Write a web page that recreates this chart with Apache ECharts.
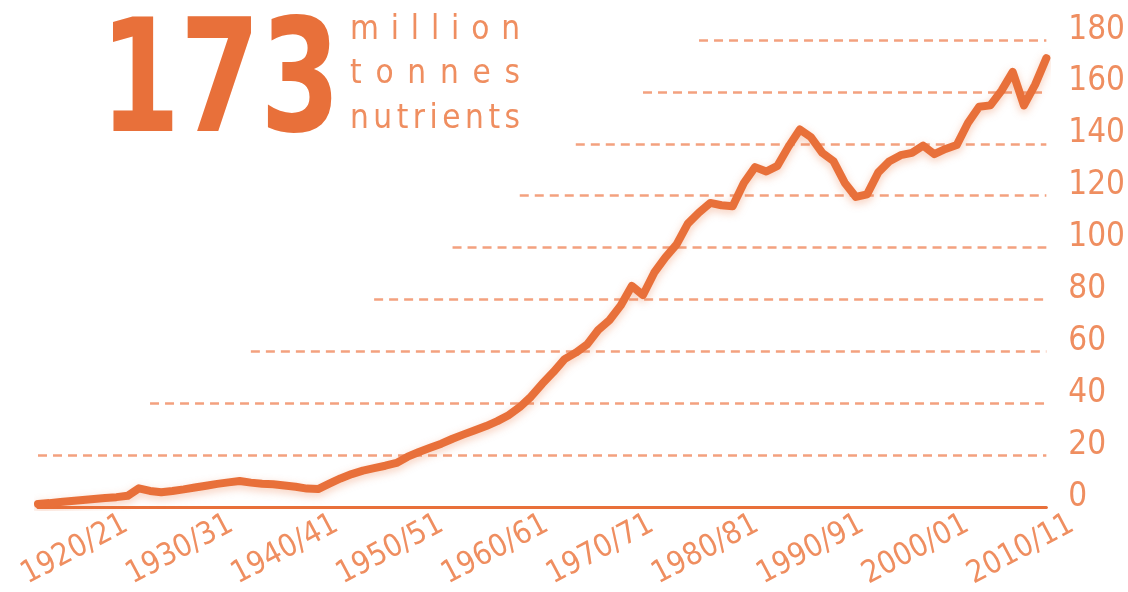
<!DOCTYPE html>
<html>
<head>
<meta charset="utf-8">
<script src="https://cdn.jsdelivr.net/npm/echarts@6/dist/echarts.min.js"></script>
<style>
html,body{margin:0;padding:0;background:#ffffff;}
#wrap{position:relative;width:1128px;height:592px;overflow:hidden;}
#chart{position:absolute;left:0;top:0;width:1128px;height:592px;}
.big{position:absolute;left:100px;top:-1px;font-weight:bold;font-size:156px;line-height:1;font-family:'Liberation Sans Narrow','DejaVu Sans Condensed','Roboto Condensed',sans-serif;color:#E8703A;white-space:nowrap;transform:scaleX(0.82);transform-origin:0 0;}
.unit{position:absolute;left:350px;font-size:33px;line-height:1;font-family:'Liberation Sans Narrow','DejaVu Sans Condensed','Roboto Condensed',sans-serif;color:#EF8E60;white-space:nowrap;}
</style>
</head>
<body>
<div id="wrap">
  <div id="chart"></div>
  <div class="big">173</div>
  <div class="unit" data-w="170" style="top:11px">million</div>
  <div class="unit" data-w="170" style="top:55px">tonnes</div>
  <div class="unit" data-w="170" style="top:100px">nutrients</div>
</div>
<script>
// ---- data ----
const years = [
 '1920/21','1921/22','1922/23','1923/24','1924/25','1925/26','1926/27','1927/28','1928/29','1929/30',
 '1930/31','1931/32','1932/33','1933/34','1934/35','1935/36','1936/37','1937/38','1938/39','1939/40',
 '1940/41','1941/42','1942/43','1943/44','1944/45','1945/46','1946/47','1947/48','1948/49','1949/50',
 '1950/51','1951/52','1952/53','1953/54','1954/55','1955/56','1956/57','1957/58','1958/59','1959/60',
 '1960/61','1961/62','1962/63','1963/64','1964/65','1965/66','1966/67','1967/68','1968/69','1969/70',
 '1970/71','1971/72','1972/73','1973/74','1974/75','1975/76','1976/77','1977/78','1978/79','1979/80',
 '1980/81','1981/82','1982/83','1983/84','1984/85','1985/86','1986/87','1987/88','1988/89','1989/90',
 '1990/91','1991/92','1992/93','1993/94','1994/95','1995/96','1996/97','1997/98','1998/99','1999/00',
 '2000/01','2001/02','2002/03','2003/04','2004/05','2005/06','2006/07','2007/08','2008/09','2009/10',
 '2010/11'
];
const consumption = [
 1.2, 1.5, 1.9, 2.3, 2.7, 3.1, 3.5, 3.8, 4.3, 7.2,
 6.2, 5.7, 6.2, 6.8, 7.5, 8.2, 8.9, 9.5, 10.0, 9.4,
 9.0, 8.8, 8.3, 7.8, 7.1, 6.9, 9.0, 11.0, 12.7, 14.0,
 15.0, 15.9, 17.0, 19.4, 21.2, 22.8, 24.4, 26.3, 28.0, 29.6,
 31.2, 33.1, 35.4, 38.5, 42.5, 47.5, 52.0, 57.0, 59.5, 62.6,
 68.2, 72.0, 77.6, 85.2, 81.7, 90.3, 96.2, 101.2, 109.2, 113.5,
 117.2, 116.3, 115.9, 124.9, 131.0, 129.3, 131.5, 139.0, 145.5, 142.5,
 136.5, 133.3, 125.0, 119.5, 120.5, 129.0, 133.3, 135.6, 136.5, 139.3,
 136.0, 138.0, 139.5, 148.0, 154.3, 154.8, 160.5, 167.7, 154.8, 162.8,
 173.0
];
const decadeLabels = ['1920/21','1930/31','1940/41','1950/51','1960/61','1970/71','1980/81','1990/91','2000/01','2010/11'];
const gridValues = [20, 40, 60, 80, 100, 120, 140, 160, 180];
const gridStartYears = ['1920/21','1930/31','1939/40','1950/51','1957/58','1963/64','1968/69','1974/75','1979/80'];

// ---- chart ----
const FONT = "'Liberation Sans Narrow','DejaVu Sans Condensed','Roboto Condensed',sans-serif";
const LINE = '#E8703A';
const LABEL = '#EF8E60';
const DASH = '#F3A17F';

const chart = echarts.init(document.getElementById('chart'), null, {renderer: 'canvas'});
const lastYear = years[years.length - 1];
const gridLines = gridValues.map((v, k) => [
  {coord: [gridStartYears[k], v]},
  {coord: [lastYear, v]}
]);

chart.setOption({
  animation: false,
  backgroundColor: '#ffffff',
  grid: [
    {left: 38, right: 78, top: 40, bottom: 85},
    {left: 126, right: 56, top: 40, bottom: 85}
  ],
  xAxis: [
    {
      type: 'category', gridIndex: 0, data: years, boundaryGap: false,
      axisLine: {show: true, lineStyle: {color: LINE, width: 3}},
      axisTick: {show: false}, axisLabel: {show: false}, splitLine: {show: false}
    },
    {
      type: 'category', gridIndex: 1, data: decadeLabels, boundaryGap: false,
      axisLine: {show: false}, axisTick: {show: false}, splitLine: {show: false},
      axisLabel: {show: true, interval: 0, rotate: 28, margin: 16, color: LABEL, fontSize: 31, fontFamily: FONT}
    }
  ],
  yAxis: [
    {
      type: 'value', gridIndex: 0, position: 'right', min: 0, max: 180, interval: 20,
      axisLine: {show: false}, axisTick: {show: false}, splitLine: {show: false},
      axisLabel: {show: true, margin: 22, color: LABEL, fontSize: 33, fontFamily: FONT,
        verticalAlign: 'bottom', lineHeight: 20}
    },
    {
      type: 'value', gridIndex: 1, min: 0, max: 180, show: false
    }
  ],
  series: [
    {
      type: 'line', xAxisIndex: 0, yAxisIndex: 0, data: consumption, z: 1, silent: true,
      showSymbol: false, lineStyle: {width: 0, opacity: 0},
      markLine: {
        silent: true, symbol: 'none', animation: false,
        label: {show: false},
        lineStyle: {color: DASH, width: 2.5, type: [9, 6]},
        emphasis: {disabled: true},
        data: gridLines
      }
    },
    {
      type: 'line', xAxisIndex: 0, yAxisIndex: 0, data: consumption, z: 5,
      showSymbol: false, smooth: false,
      lineStyle: {color: LINE, width: 8, cap: 'round', join: 'round',
        shadowColor: 'rgba(232,112,58,0.35)', shadowBlur: 8, shadowOffsetY: 3}
    }
  ]
});

// fit letter spacing of the unit words to the block width
document.querySelectorAll('.unit').forEach(el => {
  const target = parseFloat(el.dataset.w);
  el.style.letterSpacing = '0px';
  const w0 = el.getBoundingClientRect().width;
  const n = el.textContent.length;
  const ls = (target - w0) / (n - 1);
  el.style.letterSpacing = ls + 'px';
});
</script>
</body>
</html>
